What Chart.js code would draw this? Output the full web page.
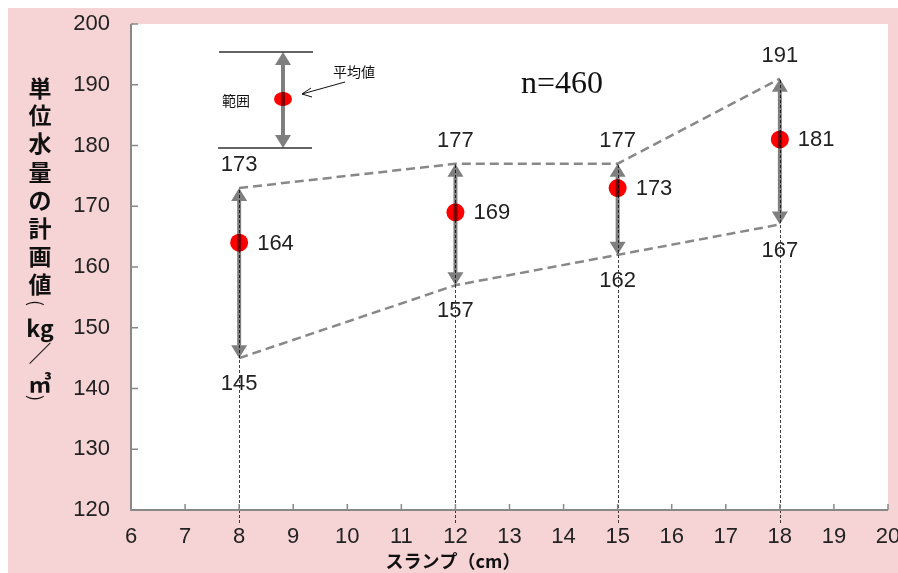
<!DOCTYPE html>
<html>
<head>
<meta charset="utf-8">
<script src="https://cdn.jsdelivr.net/npm/chart.js@4.4.1/dist/chart.umd.min.js"></script>
<style>
  html, body { margin: 0; background: #fff; }
  #wrap { position: absolute; left: 8px; top: 8px; width: 890px; height: 565px; background: rgb(246, 211, 212); }
</style>
</head>
<body>
<div id="wrap"><canvas id="chart"></canvas></div>
<script>
// slump (cm) and unit water content (kg/m3)
const slumps = [8, 12, 15, 18];
const means = [164, 169, 173, 181];
const maxs = [173, 177, 177, 191];
const mins = [145, 157, 162, 167];
const sampleCount = 460;

// vertical y-axis title, one glyph per row ('(' and ')' are drawn turned)
const yTitle = ['単', '位', '水', '量', 'の', '計', '画', '値', '(', 'kg', '／', '㎥', ')'];
const yTitleAdvance = [0, 27, 28, 29, 28, 28, 28, 28, 19, 25, 25, 30, 15];

const GRAY = 'rgba(0,0,0,0.5)';
const FONT = '"Liberation Sans", Arial, sans-serif';
const JFONT = '"Noto Sans CJK JP", sans-serif';

function arrow(ctx, x, yTop, yBot) {
  const hw = 8, hl = 13;
  ctx.save();
  ctx.fillStyle = GRAY;
  ctx.strokeStyle = GRAY;
  ctx.lineWidth = 4;
  ctx.beginPath();
  ctx.moveTo(x, yTop + hl);
  ctx.lineTo(x, yBot - hl);
  ctx.stroke();
  ctx.beginPath();
  ctx.moveTo(x, yTop);
  ctx.lineTo(x - hw, yTop + hl);
  ctx.lineTo(x + hw, yTop + hl);
  ctx.closePath();
  ctx.fill();
  ctx.beginPath();
  ctx.moveTo(x, yBot);
  ctx.lineTo(x - hw, yBot - hl);
  ctx.lineTo(x + hw, yBot - hl);
  ctx.closePath();
  ctx.fill();
  ctx.restore();
}

const decorations = {
  id: 'decorations',
  beforeDraw(chart) {
    const { ctx, chartArea: a } = chart;
    ctx.save();
    ctx.fillStyle = '#fff';
    ctx.fillRect(a.left, a.top, a.right - a.left, a.bottom - a.top);
    ctx.restore();
  },
  afterDatasetsDraw(chart) {
    const { ctx, chartArea: a } = chart;
    const xs = chart.scales.x, ys = chart.scales.y;

    slumps.forEach((s, i) => {
      const x = xs.getPixelForValue(s);
      arrow(ctx, x, ys.getPixelForValue(maxs[i]), ys.getPixelForValue(mins[i]));
    });

    // dotted drop lines
    ctx.save();
    ctx.strokeStyle = 'rgba(0,0,0,0.75)';
    ctx.lineWidth = 1;
    ctx.setLineDash([3, 2]);
    slumps.forEach((s, i) => {
      const x = Math.round(xs.getPixelForValue(s)) + 0.5;
      ctx.beginPath();
      ctx.moveTo(x, a.bottom + 13);
      ctx.lineTo(x, ys.getPixelForValue(maxs[i]));
      ctx.stroke();
    });
    ctx.restore();

    // value labels
    ctx.save();
    ctx.fillStyle = '#222';
    ctx.font = '22px ' + FONT;
    ctx.textBaseline = 'middle';
    slumps.forEach((s, i) => {
      const x = xs.getPixelForValue(s);
      ctx.textAlign = 'left';
      ctx.fillText(String(means[i]), x + 18, ys.getPixelForValue(means[i]) + 1);
      ctx.textAlign = 'center';
      ctx.fillText(String(maxs[i]), x, ys.getPixelForValue(maxs[i]) - 23);
      ctx.fillText(String(mins[i]), x, ys.getPixelForValue(mins[i]) + 26);
    });
    ctx.restore();
  },
  afterDraw(chart) {
    const { ctx, chartArea: a } = chart;
    const xs = chart.scales.x, ys = chart.scales.y;

    // axes and inner tick marks
    ctx.save();
    ctx.strokeStyle = '#888';
    ctx.lineWidth = 2;
    ctx.beginPath();
    ctx.moveTo(a.left, a.top);
    ctx.lineTo(a.left, a.bottom);
    ctx.lineTo(a.right, a.bottom);
    ctx.stroke();
    ctx.lineWidth = 1.5;
    xs.ticks.forEach(t => {
      const x = xs.getPixelForValue(t.value);
      ctx.beginPath();
      ctx.moveTo(x, a.bottom);
      ctx.lineTo(x, a.bottom - 6);
      ctx.stroke();
    });
    ys.ticks.forEach(t => {
      const y = ys.getPixelForValue(t.value);
      ctx.beginPath();
      ctx.moveTo(a.left, y);
      ctx.lineTo(a.left + 7, y);
      ctx.stroke();
    });
    ctx.restore();

    // axis titles
    ctx.save();
    ctx.fillStyle = '#111';
    ctx.textAlign = 'center';
    ctx.textBaseline = 'middle';
    ctx.font = 'bold 18px ' + JFONT;
    ctx.fillText('スランプ（cm）', 445, 553);
    let y = 80;
    yTitle.forEach((g, i) => {
      y += yTitleAdvance[i];
      if (g === '(' || g === ')') {
        ctx.save();
        ctx.translate(28, y);
        ctx.rotate(Math.PI / 2);
        ctx.font = '18px ' + JFONT;
        ctx.fillText(g, 0, 0);
        ctx.restore();
      } else {
        ctx.font = (g === '／' ? '' : 'bold ') + '23px ' + JFONT;
        ctx.fillText(g, 32, y);
      }
    });
    ctx.restore();

    // sample size
    ctx.save();
    ctx.fillStyle = '#111';
    ctx.font = '32px "Liberation Serif", "Times New Roman", serif';
    ctx.textBaseline = 'middle';
    ctx.fillText('n=' + sampleCount, 513, 77);
    ctx.restore();

    // key
    ctx.save();
    ctx.strokeStyle = '#333';
    ctx.lineWidth = 1.5;
    ctx.beginPath();
    ctx.moveTo(211, 44); ctx.lineTo(305, 44);
    ctx.moveTo(210, 140); ctx.lineTo(304, 140);
    ctx.stroke();
    ctx.fillStyle = 'red';
    ctx.beginPath();
    ctx.ellipse(275, 91, 9, 7, 0, 0, Math.PI * 2);
    ctx.fill();
    arrow(ctx, 275, 44, 140);
    ctx.fillStyle = '#111';
    ctx.font = '14px ' + JFONT;
    ctx.textBaseline = 'middle';
    ctx.fillText('範囲', 214, 93);
    ctx.fillText('平均値', 325, 64);
    ctx.strokeStyle = '#111';
    ctx.lineWidth = 1;
    ctx.beginPath();
    ctx.moveTo(337, 74); ctx.lineTo(294, 86);
    ctx.moveTo(294, 86); ctx.lineTo(303, 80);
    ctx.moveTo(294, 86); ctx.lineTo(304, 89);
    ctx.stroke();
    ctx.restore();
  }
};

const toPoints = (vals) => slumps.map((s, i) => ({ x: s, y: vals[i] }));

new Chart(document.getElementById('chart'), {
  type: 'scatter',
  data: {
    datasets: [
      {
        label: 'max',
        data: toPoints(maxs),
        showLine: true,
        borderColor: '#888',
        borderWidth: 2.5,
        borderDash: [9, 5],
        pointRadius: 0
      },
      {
        label: 'min',
        data: toPoints(mins),
        showLine: true,
        borderColor: '#888',
        borderWidth: 2.5,
        borderDash: [9, 5],
        pointRadius: 0
      },
      {
        label: 'mean',
        data: toPoints(means),
        backgroundColor: 'red',
        borderWidth: 0,
        pointRadius: 9
      }
    ]
  },
  options: {
    responsive: true,
    maintainAspectRatio: false,
    animation: false,
    layout: { padding: { left: 0, top: 16, right: 10, bottom: 0 } },
    plugins: { legend: { display: false }, tooltip: { enabled: false } },
    scales: {
      x: {
        type: 'linear',
        min: 6,
        max: 20,
        ticks: { stepSize: 1, color: '#222', font: { family: FONT, size: 22 }, padding: 14, maxRotation: 0 },
        grid: { display: false, drawTicks: false },
        border: { display: false },
        afterFit(scale) { scale.height = 63; scale.paddingLeft = 0; scale.paddingRight = 0; }
      },
      y: {
        min: 120,
        max: 200,
        ticks: { stepSize: 10, color: '#222', font: { family: FONT, size: 22 }, padding: 21 },
        grid: { display: false, drawTicks: false },
        border: { display: false },
        afterFit(scale) { scale.width = 123; scale.paddingTop = 0; scale.paddingBottom = 0; }
      }
    }
  },
  plugins: [decorations]
});
</script>
</body>
</html>
